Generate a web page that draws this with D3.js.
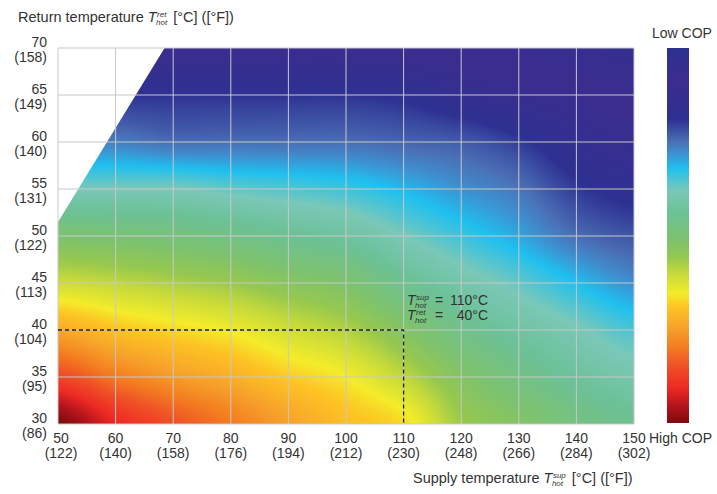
<!DOCTYPE html>
<html>
<head>
<meta charset="utf-8">
<script src="https://cdn.jsdelivr.net/npm/d3@7"></script>
<style>
  body { margin: 0; background: #fff; }
  svg text { font-family: "Liberation Sans", Arial, sans-serif; fill: #333; }
</style>
</head>
<body>
<script>
// supply temperature (columns) and return temperature (rows), °C
var supplyC = [50, 60, 70, 80, 90, 100, 110, 120, 130, 140, 150];
var supplyF = [122, 140, 158, 176, 194, 212, 230, 248, 266, 284, 302];
var returnC = [70, 65, 60, 55, 50, 45, 40, 35, 30];
var returnF = [158, 149, 140, 131, 122, 113, 104, 95, 86];

// COP level: 0 = low COP (top of bar), 1 = high COP (bottom)
// null = inside the blank (infeasible) corner
var copLevel = [
  [null, null, 0.10, 0.10, 0.10, 0.10, 0.09, 0.08, 0.07, 0.06, 0.05],
  [null, null, 0.19, 0.19, 0.19, 0.19, 0.18, 0.15, 0.12, 0.10, 0.08],
  [null, 0.265, 0.25, 0.25, 0.25, 0.25, 0.24, 0.23, 0.20, 0.15, 0.12],
  [null, 0.38, 0.38, 0.365, 0.353, 0.34, 0.313, 0.282, 0.255, 0.20, 0.17],
  [0.505, 0.498, 0.485, 0.469, 0.445, 0.423, 0.38, 0.34, 0.30, 0.25, 0.225],
  [0.612, 0.597, 0.58, 0.562, 0.534, 0.51, 0.452, 0.404, 0.365, 0.32, 0.28],
  [0.735, 0.696, 0.672, 0.65, 0.615, 0.583, 0.525, 0.463, 0.42, 0.385, 0.348],
  [0.863, 0.80, 0.757, 0.725, 0.685, 0.655, 0.597, 0.525, 0.474, 0.43, 0.40],
  [1.00, 0.91, 0.85, 0.80, 0.745, 0.70, 0.67, 0.565, 0.525, 0.48, 0.45]
];

// blank corner: return temperature above supply + 1.5 °C
var blankOffset = 1.5;

// colour bar stops
var barStops = [0, 0.09, 0.19, 0.25, 0.28, 0.32, 0.38, 0.44, 0.51, 0.56, 0.60, 0.655, 0.69, 0.745, 0.80, 0.85, 0.905, 0.95, 1.0];
var barColors = ["#2e3192", "#3b2d8e", "#2e3192", "#4a6fb5", "#3e8fcf", "#1fc0ef", "#7ac8b8", "#6cc196",
  "#7dc26e", "#96c84e", "#c4d93b", "#f4ec2a", "#fdc424", "#f7a22a", "#f47b20", "#ef4f27", "#ee2a24", "#b9151e", "#7c0a0c"];

// marked operating point
var pointSup = 110, pointRet = 40;

var width = 717, height = 494;

var x = d3.scaleLinear().domain([50, 150]).range([58, 634]);
var y = d3.scaleLinear().domain([30, 70]).range([424, 48]);
var color = d3.scaleLinear().domain(barStops).range(barColors).clamp(true);

var svg = d3.select("body").append("svg")
    .attr("width", width)
    .attr("height", height);

// fill blanks with the neighbour to the right so interpolation stays smooth
var grid = copLevel.map(function(row) {
  var out = row.slice();
  for (var i = out.length - 1; i >= 0; i--) if (out[i] == null) out[i] = out[i + 1];
  return out;
});

function cr(p0, p1, p2, p3, t) {
  return p1 + 0.5 * t * (p2 - p0 + t * (2 * p0 - 5 * p1 + 4 * p2 - p3 + t * (3 * (p1 - p2) + p3 - p0)));
}
function g(j, i) {
  j = Math.max(0, Math.min(grid.length - 1, j));
  i = Math.max(0, Math.min(grid[0].length - 1, i));
  return grid[j][i];
}
function level(s, r) {
  var fi = (s - supplyC[0]) / 10, fj = (returnC[0] - r) / 5;
  var i = Math.floor(fi), j = Math.floor(fj);
  var ti = fi - i, tj = fj - j;
  var rows = [];
  for (var k = -1; k <= 2; k++) {
    rows.push(cr(g(j + k, i - 1), g(j + k, i), g(j + k, i + 1), g(j + k, i + 2), ti));
  }
  return cr(rows[0], rows[1], rows[2], rows[3], tj);
}

// heat map raster
var x0 = x.range()[0], x1 = x.range()[1], yTop = y.range()[1], yBot = y.range()[0];
var cw = x1 - x0, ch = yBot - yTop;
var canvas = document.createElement("canvas");
canvas.width = cw; canvas.height = ch;
var ctx = canvas.getContext("2d");
var img = ctx.createImageData(cw, ch);
for (var py = 0; py < ch; py++) {
  for (var px = 0; px < cw; px++) {
    var s = x.invert(x0 + px + 0.5), r = y.invert(yTop + py + 0.5);
    var c = d3.rgb(color(level(s, r)));
    var k = (py * cw + px) * 4;
    img.data[k] = c.r; img.data[k + 1] = c.g; img.data[k + 2] = c.b; img.data[k + 3] = 255;
  }
}
ctx.putImageData(img, 0, 0);

svg.append("image")
    .attr("x", x0).attr("y", yTop)
    .attr("width", cw).attr("height", ch)
    .attr("href", canvas.toDataURL());

// blank corner
svg.append("path")
    .attr("d", d3.line()([
      [x(50), y(50 + blankOffset)],
      [x(70 - blankOffset), y(70)],
      [x(50), y(70)]
    ]))
    .attr("fill", "#fff");

// grid
svg.append("g").selectAll("line")
    .data(supplyC).enter().append("line")
    .attr("x1", function(d) { return x(d); }).attr("x2", function(d) { return x(d); })
    .attr("y1", yTop).attr("y2", yBot)
    .attr("stroke", "#c8c8c8").attr("stroke-width", 1);
svg.append("g").selectAll("line")
    .data(returnC).enter().append("line")
    .attr("y1", function(d) { return y(d); }).attr("y2", function(d) { return y(d); })
    .attr("x1", x0).attr("x2", x1)
    .attr("stroke", "#c8c8c8").attr("stroke-width", 1);

// dashed guide to the operating point
svg.append("path")
    .attr("d", d3.line()([[x(50), y(pointRet)], [x(pointSup), y(pointRet)], [x(pointSup), y(30)]]))
    .attr("fill", "none")
    .attr("stroke", "#222")
    .attr("stroke-width", 1.3)
    .attr("stroke-dasharray", "4,3");

// tick labels
var yl = svg.append("g").selectAll("g").data(returnC).enter().append("g");
yl.append("text").attr("x", 47).attr("y", function(d) { return y(d) - 1; })
    .attr("text-anchor", "end").attr("font-size", 14).text(function(d) { return d; });
yl.append("text").attr("x", 47).attr("y", function(d) { return y(d) + 14; })
    .attr("text-anchor", "end").attr("font-size", 14)
    .text(function(d, i) { return "(" + returnF[i] + ")"; });

var xl = svg.append("g").selectAll("g").data(supplyC).enter().append("g");
xl.append("text").attr("x", function(d, i) { return x(d) + (i == 0 ? 3 : 0); }).attr("y", 443)
    .attr("text-anchor", "middle").attr("font-size", 14).text(function(d) { return d; });
xl.append("text").attr("x", function(d, i) { return x(d) + (i == 0 ? 3 : 0); }).attr("y", 458)
    .attr("text-anchor", "middle").attr("font-size", 14)
    .text(function(d, i) { return "(" + supplyF[i] + ")"; });

// T with stacked super/subscript
function tSym(parent, xPos, base, sup, size) {
  var t = parent.append("text").attr("x", xPos).attr("y", base)
      .attr("font-size", size).attr("font-style", "italic").text("T");
  var wT = t.node().getComputedTextLength();
  var a = parent.append("text").attr("x", xPos + wT + 0.5).attr("y", base - 5.5)
      .attr("font-size", 8).attr("font-style", "italic").text(sup);
  var b = parent.append("text").attr("x", xPos + wT - 0.5).attr("y", base + 2.5)
      .attr("font-size", 8).attr("font-style", "italic").text("hot");
  return wT + Math.max(a.node().getComputedTextLength() + 0.5, b.node().getComputedTextLength() - 0.5);
}
function title(xPos, base, before, sup, after, size) {
  var gg = svg.append("g");
  var t1 = gg.append("text").attr("x", xPos).attr("y", base).attr("font-size", size).text(before);
  var w = t1.node().getComputedTextLength() + 4;
  var wt = tSym(gg, xPos + w, base, sup, size);
  gg.append("text").attr("x", xPos + w + wt + 6).attr("y", base).attr("font-size", size).text(after);
}
title(18, 22, "Return temperature", "ret", "[°C] ([°F])", 14.5);
title(413, 483, "Supply temperature", "sup", "[°C] ([°F])", 14.5);

// operating point note
var note = svg.append("g");
tSym(note, 407, 305, "sup", 14);
tSym(note, 407, 320, "ret", 14);
note.append("text").attr("x", 435).attr("y", 305).attr("font-size", 14).text("=");
note.append("text").attr("x", 435).attr("y", 320).attr("font-size", 14).text("=");
note.append("text").attr("x", 488).attr("y", 305).attr("font-size", 14).attr("text-anchor", "end").text(pointSup + "°C");
note.append("text").attr("x", 488).attr("y", 320).attr("font-size", 14).attr("text-anchor", "end").text(pointRet + "°C");

// colour bar
var grad = svg.append("defs").append("linearGradient")
    .attr("id", "bar").attr("x1", 0).attr("y1", 0).attr("x2", 0).attr("y2", 1);
grad.selectAll("stop").data(barStops).enter().append("stop")
    .attr("offset", function(d) { return d; })
    .attr("stop-color", function(d, i) { return barColors[i]; });
var barScale = d3.scaleLinear().domain([0, 1]).range([48, 423]);
svg.append("rect")
    .attr("x", 667).attr("y", barScale(0))
    .attr("width", 22).attr("height", barScale(1) - barScale(0))
    .attr("fill", "url(#bar)");
svg.append("text").attr("x", 682).attr("y", 38).attr("font-size", 14)
    .attr("text-anchor", "middle").text("Low COP");
svg.append("text").attr("x", 649).attr("y", 443).attr("font-size", 14).text("High COP");
</script>
</body>
</html>
